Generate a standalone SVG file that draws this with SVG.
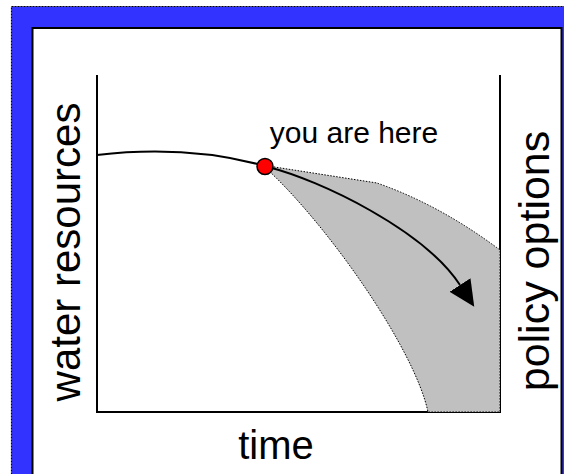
<svg xmlns="http://www.w3.org/2000/svg" width="564" height="474" viewBox="0 0 564 474">
<style>
.lbl{font-family:"Liberation Sans",Arial,sans-serif;fill:#000}
.axis{fill:none;stroke:#000;stroke-width:2}
.curve{fill:none;stroke:#000;stroke-width:2}
</style>
<defs>
<marker id="ah" markerUnits="userSpaceOnUse" markerWidth="27" markerHeight="26" refX="0" refY="12.5" orient="auto" viewBox="0 0 27 25">
<path d="M0,0 L26,12.5 L0,25 z" fill="#000"/>
</marker>
</defs>
<g id="frame">
<rect x="11.5" y="6.5" width="570" height="480" fill="#3333FF" stroke="#000" stroke-width="1.2" stroke-dasharray="2,1"/>
<rect x="32.5" y="28" width="529" height="470" fill="#fff" stroke="#000" stroke-width="2"/>
</g>
<g id="axes">
<path class="axis" d="M97,75 V412 H500 V75"/>
</g>
<g id="options-region">
<path d="M268,166 L377,183 Q440,205 500,250 L500,412 L428,412 C415,350 330,228 268,170 Z" fill="#C0C0C0" stroke="#000" stroke-width="1" stroke-dasharray="1.5,1.5"/>
</g>
<g id="connectors">
<path class="curve" d="M97,155 C140,150 200,148 265,166"/>
<path class="curve" d="M268,167 C320,180 424,230 460,285" marker-end="url(#ah)"/>
</g>
<g id="you-are-here">
<circle cx="265" cy="166.5" r="8" fill="#FF0000" stroke="#000" stroke-width="1.5"/>
<text class="lbl" x="354" y="143" font-size="30" text-anchor="middle">you are here</text>
</g>
<g id="label-water">
<text class="lbl" font-size="42" text-anchor="middle" transform="translate(80,252) rotate(-90)">water resources</text>
</g>
<g id="label-policy">
<text class="lbl" font-size="43" text-anchor="middle" transform="translate(549,261) rotate(-90)">policy options</text>
</g>
<g id="label-time">
<text class="lbl" x="276" y="459" font-size="40" text-anchor="middle">time</text>
</g>
</svg>
